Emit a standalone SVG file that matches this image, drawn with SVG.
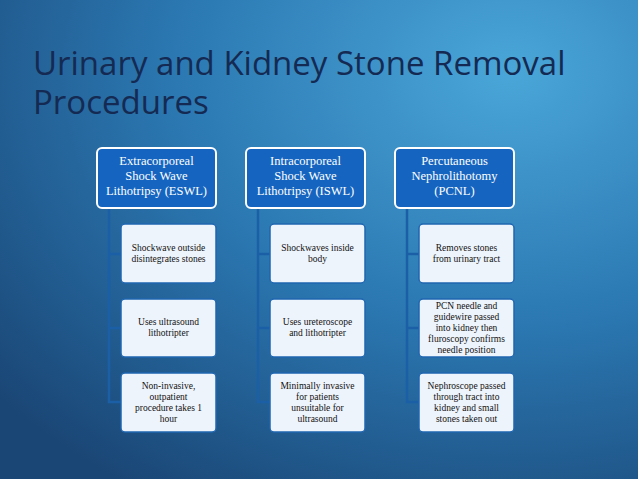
<svg xmlns="http://www.w3.org/2000/svg" width="638" height="479" viewBox="0 0 638 479">
<defs>
<radialGradient id="bg" cx="0.8" cy="0.15" r="1.05">
<stop offset="0" stop-color="#4aa6d8"/>
<stop offset="0.5" stop-color="#2b78b2"/>
<stop offset="1" stop-color="#1a4675"/>
</radialGradient>
<style>
.hd{fill:#1565c0;stroke:#fff;stroke-width:2}
.ch{fill:#eef4fb;stroke:#1f66b0;stroke-width:1.5}
.ht{font-family:"Liberation Serif",serif;font-size:12.5px;fill:#fff;text-anchor:middle}
.ct{font-family:"Liberation Serif",serif;font-size:9.5px;fill:#111;text-anchor:middle}
.cn{stroke:#1b5fa6;stroke-width:2.5;fill:none}
</style>
</defs>
<rect width="638" height="479" fill="url(#bg)"/>
<text font-family="Open Sans, Liberation Sans, sans-serif" font-size="33" fill="#152a52"><tspan x="33" y="75">Urinary and Kidney Stone Removal</tspan><tspan x="33" y="114">Procedures</tspan></text>
<g id="connectors">
<path class="cn" d="M109 208V402H121M109 254H121M109 328H121"/>
<path class="cn" d="M258 208V402H270M258 254H270M258 328H270"/>
<path class="cn" d="M407 208V402H419M407 254H419M407 328H419"/>
</g>
<g id="h1"><rect class="hd" x="97" y="148" width="119" height="60" rx="5"/><text class="ht"><tspan x="156.5" y="165">Extracorporeal</tspan><tspan x="156.5" y="180">Shock Wave</tspan><tspan x="156.5" y="195">Lithotripsy (ESWL)</tspan></text></g>
<g id="c11"><rect class="ch" x="121" y="224" width="95" height="59" rx="4"/><text class="ct"><tspan x="168.5" y="251">Shockwave outside</tspan><tspan x="168.5" y="262">disintegrates stones</tspan></text></g>
<g id="c12"><rect class="ch" x="121" y="299" width="95" height="58" rx="4"/><text class="ct"><tspan x="168.5" y="325">Uses ultrasound</tspan><tspan x="168.5" y="336">lithotripter</tspan></text></g>
<g id="c13"><rect class="ch" x="121" y="373" width="95" height="59" rx="4"/><text class="ct"><tspan x="168.5" y="389">Non-invasive,</tspan><tspan x="168.5" y="400">outpatient</tspan><tspan x="168.5" y="411">procedure takes 1</tspan><tspan x="168.5" y="422">hour</tspan></text></g>
<g id="h2"><rect class="hd" x="246" y="148" width="119" height="60" rx="5"/><text class="ht"><tspan x="305.5" y="165">Intracorporeal</tspan><tspan x="305.5" y="180">Shock Wave</tspan><tspan x="305.5" y="195">Lithotripsy (ISWL)</tspan></text></g>
<g id="c21"><rect class="ch" x="270" y="224" width="95" height="59" rx="4"/><text class="ct"><tspan x="317.5" y="251">Shockwaves inside</tspan><tspan x="317.5" y="262">body</tspan></text></g>
<g id="c22"><rect class="ch" x="270" y="299" width="95" height="58" rx="4"/><text class="ct"><tspan x="317.5" y="325">Uses ureteroscope</tspan><tspan x="317.5" y="336">and lithotripter</tspan></text></g>
<g id="c23"><rect class="ch" x="270" y="373" width="95" height="59" rx="4"/><text class="ct"><tspan x="317.5" y="389">Minimally invasive</tspan><tspan x="317.5" y="400">for patients</tspan><tspan x="317.5" y="411">unsuitable for</tspan><tspan x="317.5" y="422">ultrasound</tspan></text></g>
<g id="h3"><rect class="hd" x="395" y="148" width="119" height="60" rx="5"/><text class="ht"><tspan x="454.5" y="165">Percutaneous</tspan><tspan x="454.5" y="180">Nephrolithotomy</tspan><tspan x="454.5" y="195">(PCNL)</tspan></text></g>
<g id="c31"><rect class="ch" x="419" y="224" width="95" height="59" rx="4"/><text class="ct"><tspan x="466.5" y="251">Removes stones</tspan><tspan x="466.5" y="262">from urinary tract</tspan></text></g>
<g id="c32"><rect class="ch" x="419" y="299" width="95" height="58" rx="4"/><text class="ct"><tspan x="466.5" y="309">PCN needle and</tspan><tspan x="466.5" y="320">guidewire passed</tspan><tspan x="466.5" y="331">into kidney  then</tspan><tspan x="466.5" y="342">fluroscopy confirms</tspan><tspan x="466.5" y="353">needle position</tspan></text></g>
<g id="c33"><rect class="ch" x="419" y="373" width="95" height="59" rx="4"/><text class="ct"><tspan x="466.5" y="389">Nephroscope passed</tspan><tspan x="466.5" y="400">through tract into</tspan><tspan x="466.5" y="411">kidney and small</tspan><tspan x="466.5" y="422">stones taken out</tspan></text></g>
</svg>
